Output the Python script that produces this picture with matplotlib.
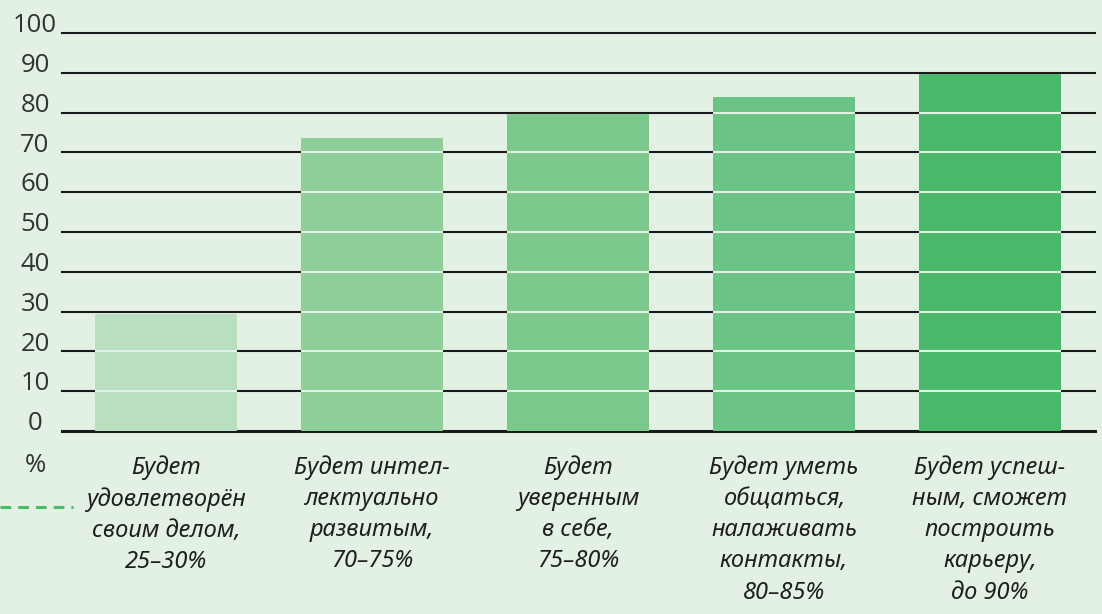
import matplotlib
matplotlib.use("Agg")
import matplotlib.pyplot as plt
from matplotlib.lines import Line2D

categories = [
    "Будет\nудовлетворён\nсвоим делом,\n25–30%",
    "Будет интел-\nлектуально\nразвитым,\n70–75%",
    "Будет\nуверенным\nв себе,\n75–80%",
    "Будет уметь\nобщаться,\nналаживать\nконтакты,\n80–85%",
    "Будет успеш-\nным, сможет\nпостроить\nкарьеру,\nдо 90%",
]
values = [29.4, 73.7, 79.6, 84.0, 89.6]
bar_colors = ["#b9dfc0", "#8fcd99", "#7cc78b", "#6bc386", "#4ab86a"]
yticks = [0, 10, 20, 30, 40, 50, 60, 70, 80, 90, 100]
unit_label = "%"

BG = "#e3f1e4"
W, H = 1102, 614
fig = plt.figure(figsize=(W / 100, H / 100), dpi=100, facecolor=BG)
ax = fig.add_axes([62 / W, (H - 431) / H, (1095 - 62) / W, (431 - 33) / H])
ax.set_facecolor(BG)
ax.set_xlim(-0.505, 4.51)
ax.set_ylim(0, 100)
for s in ax.spines.values():
    s.set_visible(False)
ax.set_xticks([])
ax.set_yticks([])

x = list(range(len(values)))
bars = ax.bar(x, values, width=0.69, color=bar_colors, edgecolor="none", zorder=2)

for y in yticks:
    ax.axhline(y, color="#1a1a1a", lw=2.2 if y == 0 else 1.5, zorder=1, clip_on=False)
    if y > 0:
        for b in bars:
            ln = ax.axhline(y, color=BG, lw=1.5, zorder=3)
            ln.set_clip_path(b)
    ax.text(-27 / 1033, y + 0.2, str(y), transform=ax.get_yaxis_transform(),
            ha="center", va="baseline", fontsize=18.5, color="#333333",
            family="Open Sans")

label_font = dict(family=["Noto Sans", "DejaVu Sans"], style="italic", fontsize=17,
                  color="#1e1e1e", linespacing=1.40)
for xi, lab in zip(x, categories):
    ax.text(xi, 1 - (455 - 33) / (431 - 33), lab, transform=ax.get_xaxis_transform(),
            ha="center", va="top", **label_font)

fig.text(35 / W, 1 - 466 / H, unit_label, ha="center", va="center", fontsize=18.5,
         color="#333333", family="Open Sans")

fig.add_artist(Line2D([0, 73 / W], [1 - 507 / H, 1 - 507 / H], transform=fig.transFigure,
                      color="#4cbc6c", lw=2.2, linestyle=(0, (3.5, 2.3))))

fig.savefig("out.png", dpi=100, facecolor=BG)
